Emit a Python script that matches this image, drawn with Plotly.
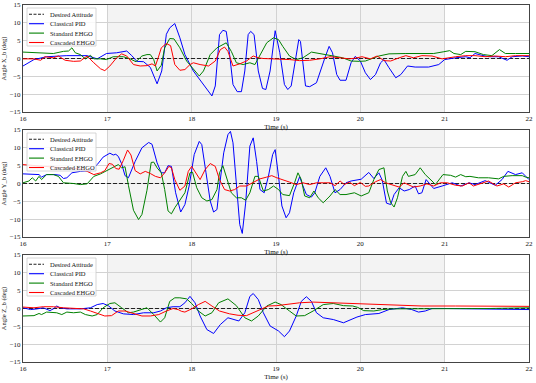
import plotly.graph_objects as go
from plotly.subplots import make_subplots

# ---------------- data ----------------
series_names = ["Desired Attitude", "Classical PID", "Standard EHGO", "Cascaded EHGO"]
axis_titles = ["Angle X_b (deg)", "Angle Y_b (deg)", "Angle Z_b (deg)"]
x_ticks = [16, 17, 18, 19, 20, 21, 22]
y_ticks = [-15, -10, -5, 0, 5, 10, 15]

desired_t = [16.0, 22.0]
desired_v = [0.0, 0.0]

# --- X axis ---
tx_pid = [16.0,16.13,16.28,16.52,16.76,16.88,16.99,17.11,17.23,17.29,17.35,17.43,17.51,17.59,17.645,17.70,17.74,17.80,17.86,17.92,18.02,18.12,18.24,18.28,18.33,18.37,18.41,18.45,18.49,18.54,18.59,18.63,18.67,18.70,18.74,18.79,18.84,18.88,18.93,18.99,19.045,19.10,19.14,19.18,19.23,19.27,19.29,19.32,19.35,19.40,19.48,19.58,19.63,19.67,19.72,19.76,19.83,19.89,19.94,20.00,20.06,20.12,20.18,20.24,20.28,20.34,20.42,20.48,20.56,20.65,20.81,20.93,21.0,21.13,21.25,21.30,21.36,21.44,21.52,21.64,21.74,21.80,21.92,22.0]
x_pid = [-2.1,-0.3,0.5,0.8,0.8,-0.1,1.4,1.6,2.1,0.8,-0.8,-0.9,-2.5,-7.1,-3.5,6.8,8.6,9.8,5.8,1.1,-3.5,-6.8,-10.5,-7.7,6.7,7.9,7.6,1.1,-7.3,-9.3,-9.3,-3.5,6.7,7.6,6.7,-3.5,-8.4,-8.7,-3.5,7.8,1.6,-7.3,-8.7,-7.7,-0.3,5.3,4.8,-2.1,-7.7,-7.9,-6.8,0.2,3.4,1.6,-4.5,-6.1,-6.1,-1.2,0.6,-0.7,-4.0,-5.9,-4.5,-1.2,-0.3,-2.6,-5.4,-4.5,-2.1,-2.4,-2.4,-1.7,-0.3,0.2,0.5,0.2,1.4,0.9,0.5,0.5,-0.5,0.5,0.7,0.5]

tx_ehgo = [16.0,16.13,16.24,16.36,16.48,16.54,16.58,16.62,16.68,16.74,16.80,16.84,16.92,16.99,17.07,17.19,17.27,17.34,17.41,17.47,17.51,17.55,17.59,17.64,17.68,17.74,17.79,17.86,17.94,18.02,18.09,18.14,18.22,18.30,18.41,18.47,18.53,18.61,18.69,18.75,18.81,18.89,18.97,19.03,19.08,19.16,19.24,19.32,19.42,19.56,19.68,19.79,19.89,19.99,20.06,20.22,20.34,20.54,20.81,20.87,20.99,21.06,21.11,21.19,21.25,21.36,21.46,21.56,21.65,21.72,21.84,22.0]
x_ehgo = [1.8,1.6,1.4,1.4,2.0,2.1,3.0,1.6,1.1,-0.1,0.9,-0.1,-0.1,-0.3,0.5,0.5,-0.1,-0.9,0.7,1.1,1.1,-0.3,-3.5,-1.9,3.0,5.6,5.5,3.0,-0.7,-3.1,-4.9,-3.5,1.1,3.0,4.4,2.0,-1.2,-1.7,-1.2,-1.7,1.1,4.4,5.8,5.3,3.4,0.7,-0.3,0.2,1.8,1.1,0.7,0.2,-0.7,-0.8,-0.7,0.7,1.3,1.4,1.4,1.4,1.9,2.2,1.4,1.1,2.0,1.9,1.1,0.8,2.5,1.4,1.4,1.4]

tx_casc = [16.0,16.13,16.21,16.26,16.36,16.42,16.50,16.60,16.68,16.76,16.84,16.92,16.97,17.03,17.11,17.17,17.23,17.31,17.39,17.47,17.53,17.57,17.61,17.64,17.70,17.75,17.80,17.86,17.92,17.98,18.02,18.10,18.20,18.28,18.34,18.39,18.43,18.49,18.57,18.65,18.73,18.79,18.85,19.0,19.16,19.28,19.40,19.52,19.64,19.76,19.87,19.94,20.02,20.12,20.20,20.28,20.36,20.46,20.54,20.63,20.73,20.85,20.97,21.13,21.25,21.36,21.48,21.60,21.72,21.84,22.0]
x_casc = [-0.1,-0.1,-0.5,0.5,0.2,0.7,-0.5,-0.8,-0.7,0.7,-1.2,-2.9,-3.4,-2.1,0.2,1.3,0.7,-1.7,-2.1,-2.0,-1.5,-2.1,0.7,3.0,4.2,3.6,-1.7,-3.3,-3.1,-1.7,-1.2,-1.7,-2.1,-0.7,2.5,3.2,2.0,-2.1,-1.5,-0.7,0.7,0.2,0.0,-0.1,-0.3,-0.6,-0.5,-0.1,0.5,0.2,-0.1,0.1,0.5,-0.1,0.7,-0.6,-0.7,0.2,0.8,0.2,0.8,0.7,-0.1,0.5,0.8,0.8,0.5,0.7,0.5,0.8,0.8]

# --- Y axis ---
ty_pid = [16.0,16.13,16.19,16.22,16.28,16.38,16.44,16.48,16.52,16.58,16.68,16.80,16.88,16.95,17.03,17.07,17.10,17.13,17.17,17.21,17.25,17.33,17.41,17.49,17.53,17.59,17.64,17.68,17.72,17.76,17.81,17.87,17.92,17.97,18.03,18.09,18.12,18.17,18.22,18.26,18.30,18.33,18.38,18.43,18.46,18.49,18.53,18.57,18.60,18.64,18.69,18.73,18.77,18.81,18.86,18.91,18.96,18.99,19.03,19.07,19.12,19.16,19.21,19.25,19.28,19.32,19.36,19.42,19.46,19.52,19.59,19.64,19.70,19.76,19.83,19.89,19.95,20.01,20.10,20.16,20.22,20.26,20.31,20.36,20.40,20.46,20.52,20.58,20.65,20.69,20.73,20.78,20.83,20.87,20.97,21.09,21.19,21.29,21.36,21.48,21.60,21.68,21.75,21.84,21.92,22.0]
y_pid = [2.7,2.7,2.5,1.8,2.5,2.5,2.3,1.4,1.6,3.0,3.4,3.6,5.3,7.4,8.5,8.0,8.2,7.6,5.5,2.2,1.6,6.2,10.0,11.5,11.0,5.8,3.0,3.0,5.0,4.8,-2.6,-8.0,-5.9,-0.7,8.1,11.8,10.9,3.0,-4.9,-8.0,-7.3,-0.7,8.6,13.7,14.6,11.4,0.7,-11.5,-14.0,-5.5,10.5,12.8,6.2,-1.7,-2.6,2.0,8.1,9.5,2.0,-6.3,-9.6,-8.2,-2.6,0.2,1.9,-0.7,-3.1,-3.8,-2.6,2.0,4.4,2.0,-2.6,-1.7,0.2,0.7,1.0,1.2,3.1,1.4,3.0,0.9,-5.5,-5.9,-3.1,-1.2,-2.1,-1.7,-0.7,-2.9,-2.6,1.1,-0.3,-1.4,-0.7,0.2,-0.7,0.2,-0.3,0.8,-0.5,1.1,3.4,2.5,3.0,1.1]

ty_ehgo = [16.0,16.07,16.11,16.15,16.19,16.22,16.28,16.36,16.42,16.48,16.60,16.68,16.76,16.84,16.92,16.99,17.07,17.13,17.17,17.21,17.25,17.31,17.37,17.41,17.47,17.52,17.55,17.59,17.64,17.68,17.72,17.76,17.80,17.86,17.92,17.98,18.01,18.06,18.12,18.18,18.24,18.30,18.33,18.37,18.41,18.47,18.53,18.59,18.64,18.69,18.75,18.79,18.85,18.91,18.97,19.03,19.08,19.16,19.22,19.26,19.30,19.34,19.40,19.45,19.50,19.56,19.64,19.70,19.76,19.83,19.93,20.01,20.10,20.16,20.22,20.28,20.32,20.36,20.40,20.44,20.50,20.54,20.57,20.65,20.71,20.77,20.85,20.89,20.98,21.07,21.13,21.19,21.25,21.30,21.40,21.52,21.64,21.70,21.80,21.92,21.96,22.0]
y_ehgo = [0.2,0.7,1.6,0.7,2.0,1.1,2.5,2.5,2.0,0.2,0.0,-0.3,-0.1,2.0,2.7,3.6,4.7,5.3,4.4,4.7,-0.5,-7.5,-10.1,-8.7,-1.9,5.9,6.0,4.4,3.0,-1.7,-7.7,-8.5,-6.8,-4.7,-2.6,3.0,3.2,-1.2,-4.0,-4.9,-4.5,-1.7,3.0,5.0,2.0,-2.6,-4.0,-4.0,-4.7,-2.6,2.0,2.0,-2.1,-1.7,-0.7,-1.7,-3.1,-3.4,0.2,3.0,1.1,-3.5,-4.0,-2.1,-4.0,-5.4,-3.5,-1.7,-3.1,-3.1,-2.6,-3.5,-2.6,1.1,3.9,4.4,-2.1,-5.4,-6.6,-4.0,2.0,3.4,2.0,2.5,4.4,2.5,0.7,-0.3,2.5,2.3,1.8,2.5,1.9,2.0,1.6,1.6,1.3,2.0,2.2,2.2,1.8,1.6]

ty_casc = [16.0,16.13,16.24,16.36,16.52,16.68,16.76,16.84,16.92,16.97,17.02,17.06,17.10,17.14,17.19,17.24,17.28,17.33,17.39,17.45,17.51,17.57,17.63,17.68,17.73,17.76,17.80,17.86,17.92,17.96,18.00,18.06,18.10,18.16,18.22,18.28,18.33,18.39,18.45,18.51,18.57,18.65,18.73,18.81,18.89,18.95,19.01,19.08,19.16,19.24,19.32,19.40,19.48,19.56,19.64,19.70,19.76,19.81,19.87,19.93,20.0,20.06,20.10,20.18,20.24,20.30,20.38,20.46,20.52,20.57,20.63,20.71,20.79,20.87,20.95,21.03,21.13,21.21,21.29,21.34,21.44,21.52,21.62,21.70,21.76,21.84,21.92,21.96,22.0]
y_casc = [5.3,5.0,4.8,4.6,4.4,4.1,3.4,2.5,3.0,3.6,5.6,5.4,4.2,4.0,6.5,9.4,8.0,3.6,2.7,3.4,2.8,2.0,1.6,3.0,4.8,4.4,1.1,-1.9,-0.7,3.4,4.8,2.5,1.1,3.9,5.6,4.8,1.1,-1.7,-2.1,-1.7,-0.7,-0.7,0.2,1.3,1.8,2.2,1.6,1.1,0.4,-0.3,0.2,-0.3,0.2,0.2,0.2,-0.6,0.7,-0.3,0.4,-0.6,0.3,-0.8,-0.7,0.5,1.1,0.2,-0.5,-1.0,0.2,-0.3,-1.0,-0.7,-0.1,-0.7,0.2,0.2,-0.5,-0.7,0.2,-0.7,0.2,0.7,-0.7,-0.1,-1.0,0.2,0.5,0.8,0.5]

# --- Z axis ---
tz_pid = [16.0,16.09,16.17,16.24,16.32,16.36,16.40,16.44,16.52,16.68,16.80,16.88,16.95,17.01,17.09,17.19,17.31,17.43,17.55,17.63,17.70,17.78,17.86,17.92,17.98,18.04,18.10,18.18,18.26,18.34,18.43,18.51,18.56,18.63,18.69,18.73,18.79,18.85,18.93,19.03,19.10,19.16,19.24,19.30,19.36,19.42,19.48,19.56,19.68,19.80,19.89,19.96,20.06,20.22,20.34,20.50,20.61,20.69,20.77,20.85,21.01,21.25,21.52,21.76,22.0]
z_pid = [0.2,-0.3,-0.1,0.2,-0.6,-0.1,0.7,0.2,-0.1,-0.1,0.2,1.1,1.4,0.8,-0.7,-1.5,-1.7,-1.2,-1.2,-0.7,0.2,0.5,0.5,1.6,3.4,1.6,-2.1,-5.9,-7.0,-4.5,-2.6,-3.1,-3.5,-1.2,3.4,4.2,2.5,-1.2,-4.9,-6.3,-7.9,-6.3,-2.1,2.0,3.3,2.0,-1.2,-2.6,-3.1,-4.0,-3.1,-2.4,-1.7,-1.4,-0.3,0.2,-0.3,-1.0,-0.7,0.0,0.0,-0.1,-0.3,-0.3,-0.3]

tz_ehgo = [16.0,16.13,16.19,16.22,16.28,16.40,16.46,16.52,16.60,16.68,16.74,16.82,16.88,16.95,17.03,17.09,17.17,17.25,17.31,17.39,17.47,17.55,17.63,17.68,17.74,17.80,17.86,17.94,18.0,18.08,18.16,18.24,18.32,18.43,18.53,18.63,18.71,18.79,18.89,18.99,19.06,19.16,19.24,19.34,19.44,19.56,19.68,19.80,19.91,19.97,20.04,20.16,20.26,20.38,20.54,20.73,20.93,21.13,21.52,22.0]
z_ehgo = [-2.1,-2.0,-1.4,-1.7,-1.0,-1.2,-1.7,-1.0,-1.2,-1.0,-1.7,-2.1,-1.7,0.2,1.4,1.6,0.2,-1.2,-1.0,-0.3,0.2,-1.7,-3.8,-2.6,2.0,3.0,3.0,2.7,1.4,-0.7,-2.1,-1.2,1.6,2.7,0.8,-2.6,-3.5,-2.1,0.7,1.8,1.1,-0.7,-2.1,-2.0,-0.7,1.1,1.4,0.8,0.7,0.3,-0.6,-0.7,-0.3,-0.1,-0.1,-0.1,0.0,0.0,0.0,0.2]

tz_casc = [16.0,16.13,16.24,16.36,16.48,16.60,16.72,16.80,16.88,16.97,17.05,17.13,17.21,17.31,17.41,17.51,17.61,17.70,17.78,17.84,17.88,17.92,18.0,18.08,18.16,18.24,18.33,18.45,18.55,18.65,18.73,18.83,18.91,19.01,19.12,19.28,19.44,19.64,19.83,19.99,20.18,20.42,20.73,21.13,21.52,22.0]
z_casc = [0.4,0.2,0.5,0.5,0.2,0.0,-0.1,-0.7,-1.4,-2.1,-2.0,-0.7,-0.7,-1.4,-2.1,-2.1,-1.7,-0.7,0.0,-0.3,-0.8,-1.0,-0.1,1.1,2.0,0.7,-0.7,-1.5,-1.9,-2.0,-1.2,-0.3,0.7,0.8,1.1,1.6,1.8,1.6,1.4,1.3,1.1,0.9,0.7,0.7,0.6,0.6]

panels = [
    [(tx_pid, x_pid), (tx_ehgo, x_ehgo), (tx_casc, x_casc)],
    [(ty_pid, y_pid), (ty_ehgo, y_ehgo), (ty_casc, y_casc)],
    [(tz_pid, z_pid), (tz_ehgo, z_ehgo), (tz_casc, z_casc)],
]
for p in panels:
    for t, v in p:
        assert len(t) == len(v), (len(t), len(v))

# ---------------- styling ----------------
W, H = 536, 383
ML, MR, MT, MB = 23, 7, 5, 21
PW, PH = W - ML - MR, H - MT - MB
FONT = "Liberation Serif"
colors = ["#222222", "#0000ff", "#008000", "#ff0000"]
panel_px = [(5, 112), (130, 237), (255, 362)]  # top/bottom pixel rows of each plot area


def px_x(px):
    return (px - ML) / PW


def px_y(py):
    return (H - MB - py) / PH


fig = make_subplots(rows=3, cols=1)

shapes = []
annotations = []
for r, series in enumerate(panels, start=1):
    fig.add_trace(go.Scatter(x=desired_t, y=desired_v, mode="lines",
                             line=dict(color=colors[0], width=1.1, dash="4px,2px"),
                             name=series_names[0], showlegend=False), row=r, col=1)
    for k, (t, v) in enumerate(series, start=1):
        fig.add_trace(go.Scatter(x=t, y=v, mode="lines",
                                 line=dict(color=colors[k], width=1.0),
                                 name=series_names[k], showlegend=False), row=r, col=1)
    top, bot = panel_px[r - 1]
    sfx = "" if r == 1 else str(r)
    fig.layout["yaxis" + sfx].domain = [px_y(bot), px_y(top)]
    fig.layout["xaxis" + sfx].domain = [0, 1]
    # shaded interval
    shapes.append(dict(type="rect", xref="x" + sfx, yref="y%s domain" % sfx,
                       x0=17, x1=21, y0=0, y1=1, fillcolor="#f3f3f3",
                       line=dict(width=0), layer="below"))
    # custom compact legend (matplotlib-like)
    shapes.append(dict(type="rect", xref="paper", yref="paper",
                       x0=px_x(27), x1=px_x(96), y0=px_y(top + 41), y1=px_y(top + 3),
                       fillcolor="rgba(255,255,255,0.85)",
                       line=dict(color="#cccccc", width=0.8), layer="above"))
    for k, name in enumerate(series_names):
        yy = px_y(top + 9.3 + 9.4 * k)
        shapes.append(dict(type="line", xref="paper", yref="paper",
                           x0=px_x(29), x1=px_x(44), y0=yy, y1=yy,
                           line=dict(color=colors[k], width=1.1,
                                     dash="3px,1.5px" if k == 0 else "solid"),
                           layer="above"))
        annotations.append(dict(xref="paper", yref="paper", x=px_x(48), y=yy,
                                text=name, showarrow=False, xanchor="left",
                                yanchor="middle",
                                font=dict(family=FONT, size=6.5, color="#111111")))

axis_common = dict(showgrid=True, gridcolor="#d2d2d2", gridwidth=0.8,
                   showline=True, mirror=True, linecolor="#444444", linewidth=1,
                   zeroline=False, ticks="", automargin=False,
                   tickfont=dict(family=FONT, size=7, color="#111111"))

for r in range(1, 4):
    fig.update_xaxes(range=[16, 22], tickvals=x_ticks, **axis_common,
                     title=dict(text="Time (s)", font=dict(family=FONT, size=7, color="#111111"),
                                standoff=1),
                     row=r, col=1)
    fig.update_yaxes(range=[-15, 15], tickvals=y_ticks, **axis_common,
                     title=dict(text=axis_titles[r - 1],
                                font=dict(family=FONT, size=6.5, color="#111111"),
                                standoff=2),
                     row=r, col=1)

fig.update_layout(width=W, height=H, margin=dict(l=ML, r=MR, t=MT, b=MB, autoexpand=False),
                  paper_bgcolor="white", plot_bgcolor="white",
                  shapes=shapes, annotations=annotations, showlegend=False,
                  font=dict(family=FONT, size=7, color="#111111"))

fig.write_html("out.html", config={"displayModeBar": False},
               post_script="document.body.style.margin='0';document.body.style.padding='0';")
